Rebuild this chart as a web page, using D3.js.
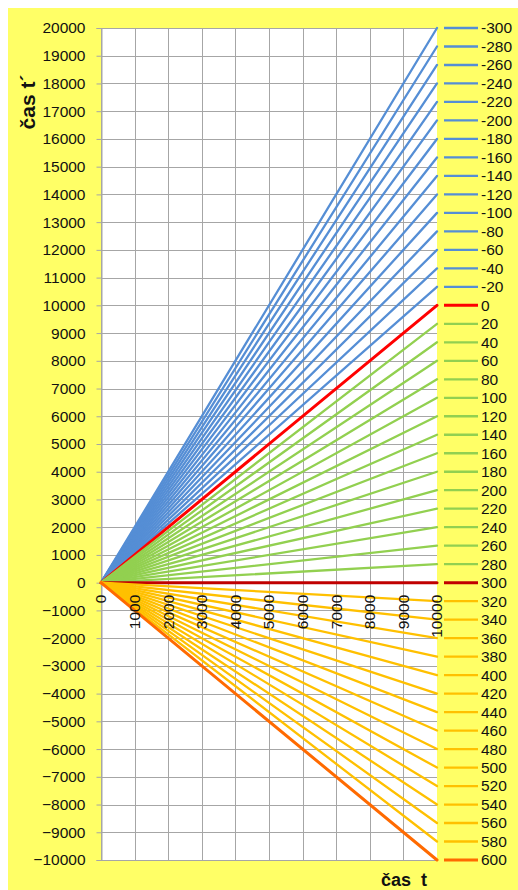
<!DOCTYPE html>
<html><head><meta charset="utf-8">
<script src="https://cdn.jsdelivr.net/npm/d3@7"></script>
<style>
html,body{margin:0;padding:0;background:#fff;}
svg{display:block;}
text{font-family:"Liberation Sans",Arial,sans-serif;fill:#111;}
</style></head>
<body>
<script>
// series names (legend labels)
const seriesNames = [-300,-280,-260,-240,-220,-200,-180,-160,-140,-120,-100,-80,-60,-40,-20,
  0,20,40,60,80,100,120,140,160,180,200,220,240,260,280,
  300,320,340,360,380,400,420,440,460,480,500,520,540,560,580,600];
// t' value of each series at t = 10000 (all lines start at 0,0)
const endValues = [20000,19333,18667,18000,17333,16667,16000,15333,14667,14000,13333,12667,12000,11333,10667,
  10000,9333,8667,8000,7333,6667,6000,5333,4667,4000,3333,2667,2000,1333,667,
  0,-667,-1333,-2000,-2667,-3333,-4000,-4667,-5333,-6000,-6667,-7333,-8000,-8667,-9333,-10000];
const tStart = 0, tEnd = 10000;
const xTicks = [0,1000,2000,3000,4000,5000,6000,7000,8000,9000,10000];
const yTicks = [-10000,-9000,-8000,-7000,-6000,-5000,-4000,-3000,-2000,-1000,0,1000,2000,3000,4000,5000,6000,7000,8000,9000,10000,11000,12000,13000,14000,15000,16000,17000,18000,19000,20000];

function colorOf(v){
  if (v < 0) return "#558ED5";
  if (v === 0) return "#FF0000";
  if (v < 300) return "#92D050";
  if (v === 300) return "#C00000";
  if (v < 600) return "#FFC000";
  return "#FF6A00";
}
function widthOf(v){ return (v===0||v===300||v===600) ? 3 : 2.3; }

const W = 518, H = 890;
const svg = d3.select("body").append("svg").attr("width", W).attr("height", H);
svg.append("rect").attr("x",8).attr("y",8).attr("width",W-8).attr("height",H-8).attr("fill","#FFFF66");

const L = 101, R = 437, T = 28, B = 860;
const x = d3.scaleLinear().domain([0,10000]).range([L,R]);
const y = d3.scaleLinear().domain([-10000,20000]).range([B,T]);

svg.append("rect").attr("x",L).attr("y",T).attr("width",R-L).attr("height",B-T).attr("fill","#fff");

// grid
const grid = svg.append("g").attr("stroke","#A6A6A6").attr("stroke-width",1).attr("shape-rendering","crispEdges");
grid.selectAll("line.h").data(yTicks).join("line")
  .attr("x1",L).attr("x2",R).attr("y1",d=>Math.round(y(d))+0.5).attr("y2",d=>Math.round(y(d))+0.5);
grid.selectAll("line.v").data(xTicks.slice(0,-1)).join("line")
  .attr("y1",T).attr("y2",B).attr("x1",d=>Math.round(x(d))+0.5).attr("x2",d=>Math.round(x(d))+0.5);

// y axis
const yAxis = svg.append("g").attr("transform",`translate(${L+0.5},0)`)
  .call(d3.axisLeft(y).tickValues(yTicks).tickFormat(d3.format("d")).tickSize(5).tickPadding(11));
yAxis.select(".domain").attr("stroke","#A6A6A6");
yAxis.selectAll(".tick line").attr("stroke","#A6A6A6");
yAxis.selectAll("text").style("font-size","15.5px").attr("fill","#111");

// series lines
const line = d3.line().x(d=>x(d[0])).y(d=>y(d[1]));
svg.append("g").selectAll("path").data(seriesNames.map((v,i)=>({v, pts:[[tStart,0],[tEnd,endValues[i]]]})))
  .join("path").attr("d",d=>line(d.pts)).attr("fill","none")
  .attr("stroke",d=>colorOf(d.v)).attr("stroke-width",d=>widthOf(d.v)).attr("stroke-linecap","round");

// x tick labels (rotated, below zero line)
const y0 = y(0);
svg.append("g").selectAll("text").data(xTicks).join("text")
  .attr("transform",d=>`translate(${x(d)},${y0+12}) rotate(-90)`)
  .attr("text-anchor","end").attr("dy","0.35em")
  .style("font-size","15.5px").text(d=>d);

// legend
const ly = d3.scalePoint().domain(seriesNames).range([T,B]);
const leg = svg.append("g").selectAll("g").data(seriesNames).join("g")
  .attr("transform",d=>`translate(0,${ly(d)})`);
leg.append("line").attr("x1",444).attr("x2",478).attr("y1",0).attr("y2",0)
  .attr("stroke",d=>colorOf(d)).attr("stroke-width",d=>widthOf(d));
leg.append("text").attr("x",481).attr("dy","0.35em").style("font-size","15.5px").text(d=>d);

// titles
svg.append("text").attr("transform","translate(35,102) rotate(-90)").attr("text-anchor","middle")
  .style("font-size","21px").style("font-weight","bold").text("čas t´");
svg.append("text").attr("x",404).attr("y",886).attr("text-anchor","middle")
  .style("font-size","18px").style("font-weight","bold").attr("xml:space","preserve").style("white-space","pre").text("čas  t");
</script>
</body></html>
